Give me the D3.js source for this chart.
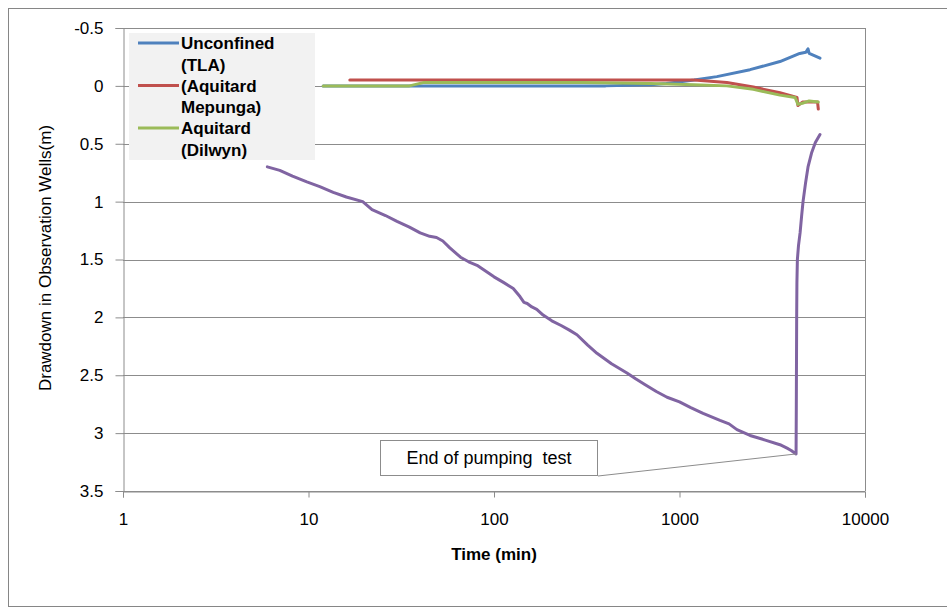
<!DOCTYPE html>
<html>
<head>
<meta charset="utf-8">
<script src="https://cdn.jsdelivr.net/npm/d3@7"></script>
<style>
  body { margin: 0; background: #fff; }
  text { font-family: "Liberation Sans", Arial, sans-serif; fill: #000; }
</style>
</head>
<body>
<div id="chart"></div>
<script>
// pumping test drawdown, log time axis
var xTicks = [1, 10, 100, 1000, 10000];
var yTicks = [-0.5, 0, 0.5, 1, 1.5, 2, 2.5, 3, 3.5];

var blueTime = [12, 20, 50, 100, 200, 400, 700, 850, 1200, 1590, 2400, 3480, 4450, 4800, 4930, 5000, 5720];
var blueVal  = [0.0, 0.0, 0.0, 0.0, 0.0, 0.0, -0.01, -0.02, -0.05, -0.08, -0.14, -0.21, -0.28, -0.29, -0.32, -0.28, -0.24];

var redTime = [16.7, 40, 100, 200, 400, 700, 1200, 1800, 2500, 3480, 4300, 4350, 4600, 5000, 5550, 5600];
var redVal  = [-0.05, -0.05, -0.05, -0.05, -0.05, -0.05, -0.05, -0.03, 0.01, 0.06, 0.10, 0.17, 0.14, 0.14, 0.14, 0.20];

var greenTime = [12, 30, 35, 42, 100, 300, 700, 1200, 1800, 2500, 3480, 4200, 4350, 4600, 5000, 5600];
var greenVal  = [0.0, 0.0, 0.0, -0.03, -0.03, -0.03, -0.02, -0.01, 0.0, 0.03, 0.08, 0.10, 0.16, 0.15, 0.13, 0.14];

var purpleTime = [6.0, 7, 8.2, 9.8, 11.5, 13.6, 16, 19.6, 22, 26, 30, 35, 40, 45, 49, 53, 57.8, 66, 73, 81, 90, 100, 113, 127, 138, 145, 151, 160, 170, 184, 205, 230, 255, 280, 320, 359, 430, 521, 580, 650, 750, 857, 1000, 1150, 1340, 1653, 1850, 2040, 2400, 2900, 3480, 3800, 4000, 4250,
                  4262, 4272, 4282, 4295, 4320, 4380, 4467, 4550, 4634, 4780, 4930, 5150, 5400, 5720];
var purpleVal  = [0.70, 0.73, 0.78, 0.83, 0.87, 0.92, 0.96, 1.00, 1.07, 1.12, 1.17, 1.22, 1.27, 1.30, 1.31, 1.34, 1.40, 1.48, 1.52, 1.55, 1.60, 1.65, 1.70, 1.75, 1.82, 1.87, 1.88, 1.91, 1.93, 1.98, 2.03, 2.07, 2.11, 2.15, 2.24, 2.31, 2.40, 2.48, 2.53, 2.58, 2.64, 2.69, 2.73, 2.78, 2.83, 2.89, 2.92, 2.97, 3.02, 3.06, 3.10, 3.13, 3.15, 3.18,
                  2.80, 2.40, 2.00, 1.70, 1.50, 1.38, 1.27, 1.13, 1.00, 0.84, 0.70, 0.58, 0.49, 0.42];

var legendNames = [["Unconfined", "(TLA)"], ["(Aquitard", "Mepunga)"], ["Aquitard", "(Dilwyn)"]];
var colors = ["#4F81BD", "#C0504D", "#9BBB59", "#8064A2"];

function pairs(ts, vs) {
    return ts.map(function(t, i) { return [t, vs[i]]; });
}
var series = [pairs(blueTime, blueVal), pairs(redTime, redVal), pairs(greenTime, greenVal), pairs(purpleTime, purpleVal)];

var svg = d3.select("#chart").append("svg")
    .attr("width", 947)
    .attr("height", 610);

// outer chart frame
svg.append("rect")
    .attr("x", 8.5).attr("y", 8.5)
    .attr("width", 950).attr("height", 598)
    .attr("fill", "#fff")
    .attr("stroke", "#868686");

var x = d3.scaleLog().domain([1, 10000]).range([123, 865]);
var y = d3.scaleLinear().domain([-0.5, 3.5]).range([28, 491]);

// gridlines
svg.selectAll("line.grid")
    .data(yTicks)
    .enter()
    .append("line")
    .attr("class", "grid")
    .attr("x1", 123).attr("x2", 865)
    .attr("y1", function(d) { return Math.round(y(d)) + 0.5; })
    .attr("y2", function(d) { return Math.round(y(d)) + 0.5; })
    .attr("stroke", "#8c8c8c");

svg.append("line")
    .attr("x1", 865.5).attr("x2", 865.5)
    .attr("y1", y(-0.5)).attr("y2", y(3.5))
    .attr("stroke", "#8c8c8c");

var yAxis = svg.append("g")
    .attr("transform", "translate(123.5,0)")
    .call(d3.axisLeft(y).tickValues(yTicks).tickSize(8).tickPadding(12).tickFormat(function(d) { return String(d); }));

var xAxis = svg.append("g")
    .attr("transform", "translate(0," + (Math.round(y(3.5)) + 0.5) + ")")
    .call(d3.axisBottom(x).tickValues(xTicks).tickSize(6).tickPadding(15).tickFormat(function(d) { return String(d); }));

svg.selectAll(".domain, .tick line").attr("stroke", "#8c8c8c");
svg.selectAll(".tick text")
    .attr("font-family", "Liberation Sans, Arial, sans-serif")
    .attr("font-size", 17)
    .attr("fill", "#000");

// data lines
var line = d3.line()
    .x(function(d) { return x(d[0]); })
    .y(function(d) { return y(d[1]); });

svg.selectAll("path.series")
    .data(series)
    .enter()
    .append("path")
    .attr("class", "series")
    .attr("d", line)
    .attr("fill", "none")
    .attr("stroke", function(d, i) { return colors[i]; })
    .attr("stroke-width", 3)
    .attr("stroke-linejoin", "round")
    .attr("stroke-linecap", "round");

// annotation, leader goes to the last pumping point
var endPt = series[3][purpleVal.indexOf(d3.max(purpleVal))];
svg.append("line")
    .attr("x1", 598).attr("y1", 476)
    .attr("x2", x(endPt[0])).attr("y2", y(endPt[1]))
    .attr("stroke", "#8c8c8c");
svg.append("rect")
    .attr("x", 380.5).attr("y", 440.5)
    .attr("width", 217).attr("height", 35)
    .attr("fill", "#fff")
    .attr("stroke", "#8c8c8c");
svg.append("text")
    .attr("x", 489).attr("y", 464)
    .attr("text-anchor", "middle")
    .attr("font-size", 18)
    .style("white-space", "pre")
    .text("End of pumping  test");

// legend
var legend = svg.append("g");
legend.append("rect")
    .attr("x", 129).attr("y", 33)
    .attr("width", 186).attr("height", 127)
    .attr("fill", "#f2f2f2");

legendNames.forEach(function(names, i) {
    var top = 43 + i * 42.5;
    legend.append("line")
        .attr("x1", 138).attr("x2", 179)
        .attr("y1", top).attr("y2", top)
        .attr("stroke", colors[i])
        .attr("stroke-width", 3);
    names.forEach(function(n, j) {
        legend.append("text")
            .attr("x", 181)
            .attr("y", top + j * 21.5 + 6)
            .attr("font-size", 17)
            .attr("font-weight", "bold")
            .text(n);
    });
});

// axis titles
svg.append("text")
    .attr("x", 494).attr("y", 560)
    .attr("text-anchor", "middle")
    .attr("font-size", 17)
    .attr("font-weight", "bold")
    .text("Time (min)");

svg.append("text")
    .attr("transform", "translate(51,258) rotate(-90)")
    .attr("text-anchor", "middle")
    .attr("font-size", 17)
    .text("Drawdown in Observation Wells(m)");
</script>
</body>
</html>
